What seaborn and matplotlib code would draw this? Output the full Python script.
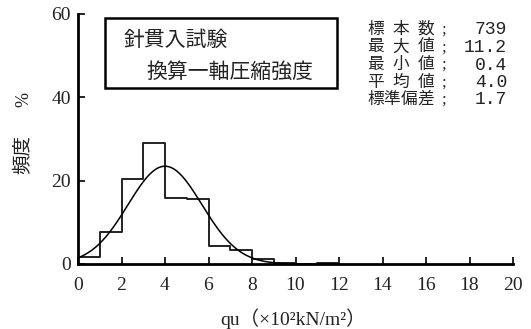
import numpy as np
import pandas as pd
import matplotlib
matplotlib.use("Agg")
import matplotlib.pyplot as plt
import seaborn as sns

# ---- data ----
bin_edges = [0, 1, 2, 3, 4, 5, 6, 7, 8, 9, 10, 11, 12]
freq_pct = [1.6, 7.7, 20.4, 29.0, 15.9, 15.5, 4.3, 3.4, 1.1, 0.3, 0.0, 0.2]
stat_labels = ["標本数", "最大値", "最小値", "平均値", "標準偏差"]
stat_values = ["739", "11.2", "0.4", "4.0", "1.7"]
mean_val = 4.0
sd_val = 1.7
x_ticks = [0, 2, 4, 6, 8, 10, 12, 14, 16, 18, 20]
y_ticks = [0, 20, 40, 60]
title_lines = ["針貫入試験", "換算一軸圧縮強度"]

sns.set_theme(style="white")
plt.rcParams["font.family"] = ["Liberation Serif", "Noto Sans CJK JP"]

W, H = 531, 329
fig = plt.figure(figsize=(W / 100, H / 100), dpi=100)
ax = fig.add_axes([78 / W, 1 - 264 / H, (513 - 78) / W, (264 - 14) / H])

centers = [(a + b) / 2 for a, b in zip(bin_edges[:-1], bin_edges[1:])]
df = pd.DataFrame({"qu": centers, "pct": freq_pct})
sns.histplot(data=df, x="qu", weights="pct", bins=bin_edges, element="step",
             fill=False, color="#222222", linewidth=1.4, ax=ax)

xs = np.linspace(0, 12, 300)
ys = 100.0 / (sd_val * np.sqrt(2 * np.pi)) * np.exp(-0.5 * ((xs - mean_val) / sd_val) ** 2)
sns.lineplot(x=xs, y=ys, color="black", linewidth=1.1, ax=ax)

ax.set_xlim(0, 20)
ax.set_ylim(0, 60)
ax.set_xticks(x_ticks)
ax.set_yticks(y_ticks)
ax.set_xticklabels([str(t) for t in x_ticks], fontsize=14)
ax.set_yticklabels([str(t) for t in y_ticks], fontsize=14)
ax.tick_params(direction="in", length=5, width=1.2, color="black",
               bottom=True, left=True, labelcolor="#222222")
ax.tick_params(axis="x", pad=9)
ax.tick_params(axis="y", pad=5)
for s in ["top", "right"]:
    ax.spines[s].set_visible(False)
for s in ["left", "bottom"]:
    ax.spines[s].set_color("black")
    ax.spines[s].set_linewidth(2)
ax.set_xlabel("")
ax.set_ylabel("")
ax.grid(False)

def fx(px):
    return px / W

def fy(py):
    return 1 - py / H

# x label
fig.text(fx(293), fy(319), "qu（×10²kN/m²）", ha="center", va="center",
         fontsize=14, color="#222222")
# y label
fig.text(fx(24), fy(155), "頻度", ha="center", va="center", rotation=90,
         fontsize=14, color="#222222")
fig.text(fx(24), fy(100), "%", ha="center", va="center", rotation=90,
         fontsize=13, color="#222222")

# title box
box = plt.Rectangle((fx(105), fy(88)), fx(337) - fx(105), fy(18) - fy(88),
                    transform=fig.transFigure, fill=False, edgecolor="black",
                    linewidth=1.8)
fig.add_artist(box)
fig.text(fx(124), fy(41), title_lines[0], ha="left", va="center", fontsize=15,
         color="#222222")
fig.text(fx(146), fy(73), title_lines[1], ha="left", va="center", fontsize=15,
         color="#222222")

# stats block
row_y = [30, 47.5, 65, 82.5, 100]
for lab, val, y in zip(stat_labels, stat_values, row_y):
    n = len(lab)
    left, right = 367, 433
    cw = 15.5
    if n == 1:
        pos = [left]
    else:
        step = (right - cw - left) / (n - 1)
        pos = [left + i * step for i in range(n)]
    for ch, px in zip(lab, pos):
        fig.text(fx(px), fy(y), ch, ha="left", va="center", fontsize=12,
                 color="#222222")
    fig.text(fx(441), fy(y), ";", ha="left", va="center", fontsize=12,
             color="#222222")
    fig.text(fx(507), fy(y), val, ha="right", va="center", fontsize=13,
             family="Liberation Mono", color="#222222")

fig.savefig("out.png", dpi=100)
